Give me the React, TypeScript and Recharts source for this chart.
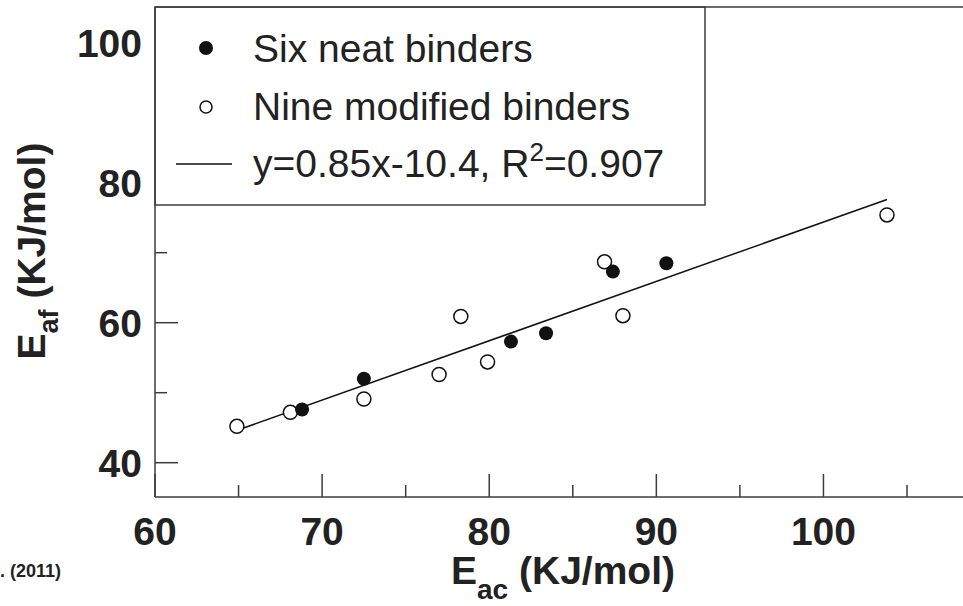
import { ScatterChart, Scatter, XAxis, YAxis, ReferenceLine, Customized } from "recharts";

// values (E_ac, E_af in KJ/mol)
const neatBinders = [
  { x: 68.8, y: 47.6 },
  { x: 72.5, y: 52.0 },
  { x: 81.3, y: 57.3 },
  { x: 83.4, y: 58.5 },
  { x: 87.4, y: 67.3 },
  { x: 90.6, y: 68.5 },
];

const modifiedBinders = [
  { x: 64.9, y: 45.2 },
  { x: 68.1, y: 47.2 },
  { x: 72.5, y: 49.1 },
  { x: 77.0, y: 52.6 },
  { x: 78.3, y: 60.9 },
  { x: 79.9, y: 54.4 },
  { x: 86.9, y: 68.7 },
  { x: 88.0, y: 61.0 },
  { x: 103.8, y: 75.4 },
];

// regression line end points
const fitLine = [
  { x: 65.0, y: 44.7 },
  { x: 103.8, y: 77.6 },
];

const xTicks = [60, 65, 70, 75, 80, 85, 90, 95, 100, 105];
const yTicks = [40, 50, 60, 70, 80, 90, 100];
const xDomain = [60, 108.35];
const yDomain = [35.1, 105.1];

const FONT = "'Liberation Sans', Arial, Helvetica, sans-serif";
const AXIS = "#3c3c3c";
const INK = "#222";

const XTick = ({ x, y, payload }: any) => {
  const v = payload.value;
  const major = v % 10 === 0;
  return (
    <g>
      <line x1={x} x2={x} y1={y} y2={y - (major ? 23 : 12)} stroke={AXIS} strokeWidth={1.5} />
      {major && (
        <text x={x} y={y + 48} textAnchor="middle" fontFamily={FONT} fontWeight="bold" fontSize={39} fill={INK}>
          {v}
        </text>
      )}
    </g>
  );
};

const YTick = ({ x, y, payload }: any) => {
  const v = payload.value;
  const major = v % 20 === 0;
  // ticks from 80 up sit behind the legend box
  const hidden = v >= 80;
  return (
    <g>
      {!hidden && (
        <line x1={x} x2={x + (major ? 23 : 12)} y1={y} y2={y} stroke={AXIS} strokeWidth={1.5} />
      )}
      {major && (
        <text x={x - 13} y={y + 14} textAnchor="end" fontFamily={FONT} fontWeight="bold" fontSize={39} fill={INK}>
          {v}
        </text>
      )}
    </g>
  );
};

const Filled = (p: any) => <circle cx={p.cx} cy={p.cy} r={7} fill="#111" />;
const Open = (p: any) => <circle cx={p.cx} cy={p.cy} r={7} fill="#fff" stroke="#111" strokeWidth={1.5} />;

const Decor = () => (
  <g fontFamily={FONT} fill={INK}>
    {/* legend box */}
    <rect x={155} y={7} width={550} height={198} fill="#fff" stroke={AXIS} strokeWidth={1.5} />
    <circle cx={206} cy={48} r={7} fill="#111" />
    <text x={253} y={62} fontSize={39}>Six neat binders</text>
    <circle cx={206} cy={107} r={6} fill="#fff" stroke="#111" strokeWidth={1.5} />
    <text x={253} y={120} fontSize={39}>Nine modified binders</text>
    <line x1={176} x2={232} y1={164} y2={164} stroke="#111" strokeWidth={1.5} />
    <text x={253} y={177} fontSize={39}>
      y=0.85x-10.4, R<tspan fontSize={26} dy={-16}>2</tspan>
      <tspan dy={16}>=0.907</tspan>
    </text>

    {/* axis titles */}
    <text x={563} y={584} textAnchor="middle" fontSize={39} fontWeight="bold">
      E<tspan fontSize={28} dy={15}>ac</tspan>
      <tspan dy={-15}> (KJ/mol)</tspan>
    </text>
    <text x={45} y={251} transform="rotate(-90, 45, 251)" textAnchor="middle" fontSize={39} fontWeight="bold">
      E<tspan fontSize={27} dy={13}>af</tspan>
      <tspan dy={-13}> (KJ/mol)</tspan>
    </text>

    <text x={0} y={577} fontSize={18} fontWeight="bold">. (2011)</text>
  </g>
);

export default function App() {
  return (
    <div style={{ position: "absolute", left: 0, top: 0, background: "#fff" }}>
      <ScatterChart width={963} height={606} margin={{ top: 7, right: 0, bottom: 0, left: 0 }}>
        <XAxis
          type="number"
          dataKey="x"
          domain={xDomain}
          ticks={xTicks}
          interval={0}
          height={109}
          tickSize={0}
          tickMargin={0}
          tickLine={false}
          tick={<XTick />}
          axisLine={{ stroke: AXIS, strokeWidth: 1.5 }}
          allowDataOverflow
        />
        <YAxis
          type="number"
          dataKey="y"
          domain={yDomain}
          ticks={yTicks}
          interval={0}
          width={155}
          tickSize={0}
          tickMargin={0}
          tickLine={false}
          tick={<YTick />}
          axisLine={{ stroke: AXIS, strokeWidth: 1.5 }}
          allowDataOverflow
        />
        <ReferenceLine y={yDomain[1]} stroke={AXIS} strokeWidth={1.5} ifOverflow="extendDomain" />
        <Scatter
          data={fitLine}
          line={{ stroke: "#111", strokeWidth: 1.5 }}
          shape={() => <g />}
          isAnimationActive={false}
        />
        <Scatter data={modifiedBinders} shape={Open} isAnimationActive={false} />
        <Scatter data={neatBinders} shape={Filled} isAnimationActive={false} />
        <Customized component={Decor} />
      </ScatterChart>
    </div>
  );
}
